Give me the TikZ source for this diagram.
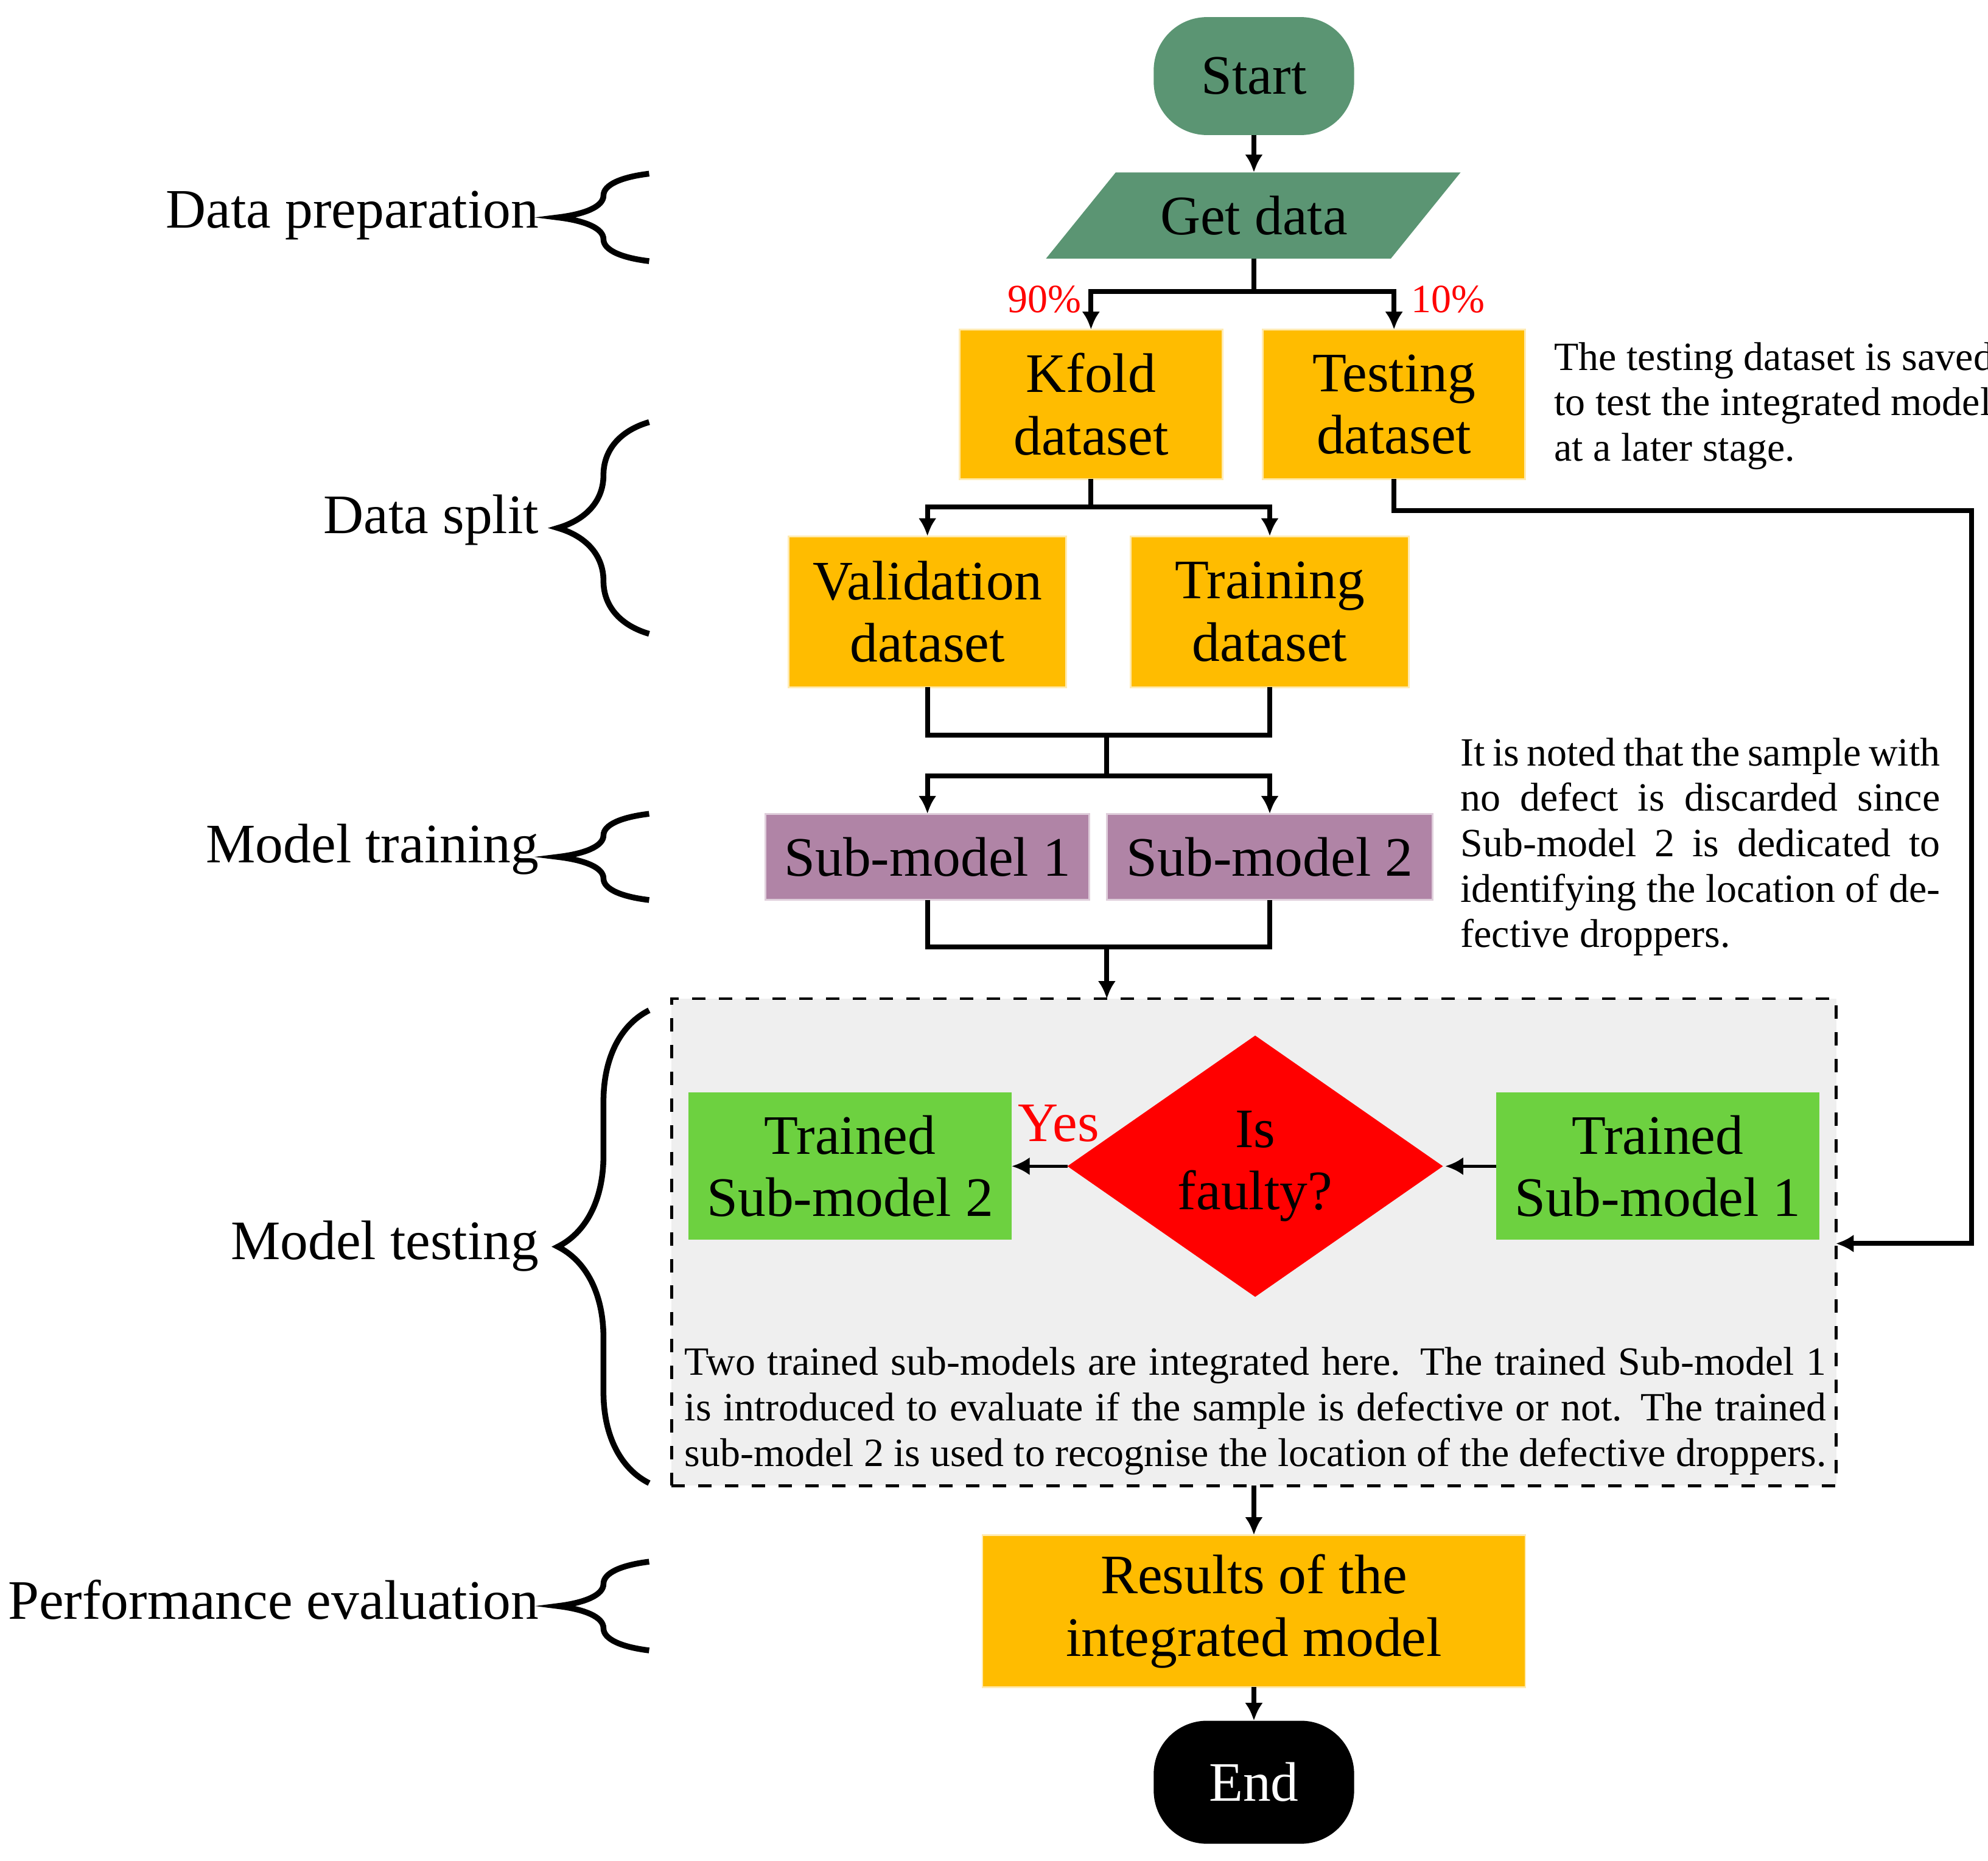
\documentclass[tikz,border=0pt]{standalone}
\usepackage{fontspec}
\setmainfont{Liberation Serif}
\usetikzlibrary{decorations.pathreplacing,arrows.meta,shapes.geometric}
\definecolor{sgreen}{RGB}{91,149,115}
\definecolor{orng}{RGB}{255,188,0}
\definecolor{purp}{RGB}{176,132,166}
\definecolor{lgreen}{RGB}{109,209,64}
\definecolor{gbox}{RGB}{239,239,239}
\begin{document}
\begin{tikzpicture}[x=0.01cm,y=-0.01cm,
  every node/.style={inner sep=0pt,outer sep=0pt},
  big/.style={font=\fontsize{12.5pt}{14pt}\selectfont,align=center},
  box/.style={big,draw=white!70!orng,line width=0.4pt},
  lab/.style={font=\fontsize{12.5pt}{14pt}\selectfont,anchor=east},
  note/.style={font=\fontsize{9pt}{10.2pt}\selectfont},
  ln/.style={line width=1.1pt},
  arr/.style={ln,-{Latex[length=4pt,width=4pt]}},
  br/.style={line width=1.3pt,decorate,decoration={brace,amplitude=0.72cm}}]
\useasboundingbox (0,0) rectangle (1568,1468);
% terminals
\node[big,fill=sgreen,rounded corners=0.42cm,minimum width=1.58cm,minimum height=0.93cm] (start) at (989,60) {Start};
\fill[sgreen] (880,136) -- (1152,136) -- (1097,204) -- (825,204) -- cycle;
\node[big] (get) at (989,170) {Get data};
\coordinate (getb) at (989,204);
% split
\node[box,fill=orng,minimum width=2.07cm,minimum height=1.18cm] (kf) at (860.5,319) {Kfold\\dataset};
\node[box,fill=orng,minimum width=2.07cm,minimum height=1.18cm] (te) at (1099.5,319) {Testing\\dataset};
\draw[arr] (start.south) -- (989,136);
\draw[ln] (getb) -- (989,230) coordinate (j1);
\draw[arr] (j1) -| (kf.north);
\draw[arr] (j1) -| (te.north);
\node[note,text=red] (p90) at (824,236) {90\%};
\node[note,text=red] (p10) at (1142,236) {10\%};
\node[note,anchor=north west,align=left] (n1) at (1226,270) {The testing dataset is saved\\to test the integrated model\\at a later stage.};
\node[box,fill=orng,minimum width=2.19cm,minimum height=1.19cm] (va) at (731.5,482.5) {Validation\\dataset};
\node[box,fill=orng,minimum width=2.19cm,minimum height=1.19cm] (tr) at (1001.5,482.5) {Training\\dataset};
\draw[ln] (kf.south) -- (860.5,400) coordinate (j2);
\draw[arr] (j2) -| (va.north);
\draw[arr] (j2) -| (tr.north);
% training
\node[box,fill=purp,draw=white!60!purp,minimum width=2.55cm,minimum height=0.68cm] (s1) at (731.5,676) {Sub-model 1};
\node[box,fill=purp,draw=white!60!purp,minimum width=2.57cm,minimum height=0.68cm] (s2) at (1001.5,676) {Sub-model 2};
\draw[ln] (va.south) -- (731.5,580) -- (1001.5,580) -- (tr.south);
\draw[ln] (873,580) -- (873,612) coordinate (j3);
\draw[arr] (j3) -| (s1.north);
\draw[arr] (j3) -| (s2.north);
\node[note,anchor=north west,text width=3.78cm,align=justify] (n2) at (1152,582) {It is noted that the sample with no defect is discarded since Sub-model 2 is dedicated to identifying the location of defective droppers.};
% testing box
\node[draw,dashed,fill=gbox,line width=0.6pt,minimum width=9.18cm,minimum height=3.84cm] (tbox) at (989,980) {};
\draw[ln] (s1.south) -- (731.5,747) -- (1001.5,747) -- (s2.south);
\draw[arr] (873,747) -- (873,788);
\node[big,fill=red,diamond,minimum width=2.96cm,minimum height=2.06cm,aspect=1.44] (dia) at (990,920) {};
\node[big] at (990,920) {Is\\faulty?};
\node[big,fill=lgreen,minimum width=2.55cm,minimum height=1.16cm] (t2) at (670.5,920) {Trained\\Sub-model 2};
\node[big,fill=lgreen,minimum width=2.55cm,minimum height=1.16cm] (t1) at (1307.5,920) {Trained\\Sub-model 1};
\draw[-{Latex[length=4pt,width=4pt]},line width=0.7pt] (t1.west) -- (1140,920);
\draw[-{Latex[length=4pt,width=4pt]},line width=0.7pt] (842,920) -- (t2.east);
\node[big,text=red] (yes) at (835,886) {Yes};
\draw[arr] (te.south) -- (1099.5,403) -- (1555,403) -- (1555,981) -- (1448,981);
\node[note,anchor=north west,text width=9.0cm,align=justify] (n3) at (540,1063) {Two trained sub-models are integrated here. The trained Sub-model 1 is introduced to evaluate if the sample is defective or not. The trained sub-model 2 is used to recognise the location of the defective droppers.};
% results
\node[box,fill=orng,minimum width=4.28cm,minimum height=1.2cm] (res) at (989,1271) {Results of the\\integrated model};
\draw[arr] (989,1172) -- (res.north);
\node[big,fill=black,text=white,rounded corners=0.42cm,minimum width=1.58cm,minimum height=0.97cm] (end) at (989,1406) {End};
\draw[arr] (res.south) -- (end.north);
% left labels & braces
\node[lab] (l1) at (425,170) {Data preparation};
\node[lab] (l2) at (425,410) {Data split};
\node[lab] (l3) at (425,670) {Model training};
\node[lab] (l4) at (425,983) {Model testing};
\node[lab] (l5) at (425,1262) {Performance evaluation};
\draw[br] (512,206) -- (512,137);
\draw[br] (512,500) -- (512,333);
\draw[br] (512,710) -- (512,642);
\draw[br] (512,1170) -- (512,797);
\draw[br] (512,1302) -- (512,1232);
\end{tikzpicture}
\end{document}
